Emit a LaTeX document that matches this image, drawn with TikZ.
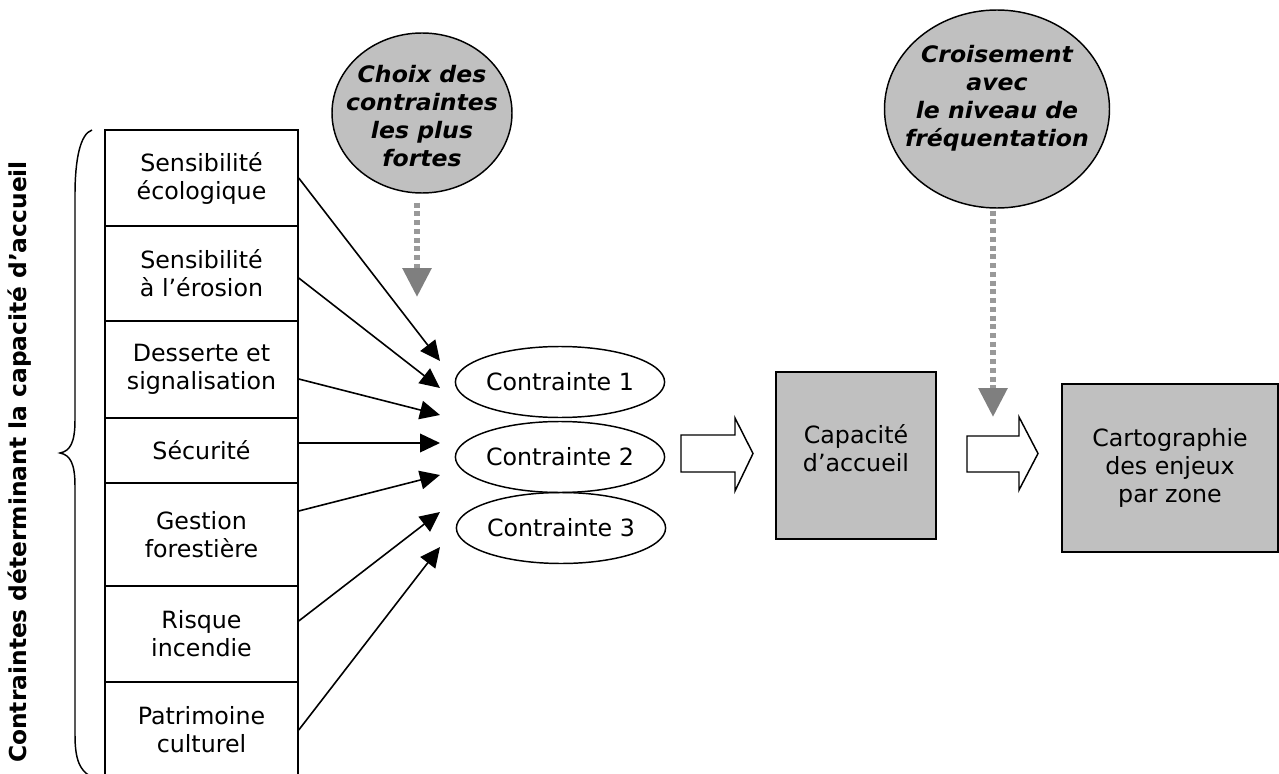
\documentclass[tikz,border=0pt]{standalone}
\usepackage{fontspec}
\setmainfont{DejaVu Sans}
\newfontfamily\ellfont[FakeStretch=1.04]{DejaVu Sans}
\usetikzlibrary{shapes.geometric,arrows.meta,calc}
\definecolor{boxgray}{HTML}{C0C0C0}
\definecolor{dashgray}{HTML}{999999}
\definecolor{headgray}{HTML}{7F7F7F}
\begin{document}
\begin{tikzpicture}[x=0.75pt,y=-0.75pt,
  txt/.style={font=\fontsize{17.8pt}{21pt}\selectfont, align=center},
  ltxt/.style={font=\ellfont\fontsize{17pt}{21pt}\selectfont\bfseries\itshape, align=center},
  leftbox/.style={draw, line width=1.1pt, minimum width=144.75pt, inner sep=0pt, txt},
  cellipse/.style={draw, ellipse, line width=1.1pt, minimum width=144pt, minimum height=53.25pt, inner sep=0pt, txt},
  gellipse/.style={draw, ellipse, line width=1.1pt, fill=boxgray, inner sep=0pt},
  gbox/.style={draw, line width=1.1pt, fill=boxgray, inner sep=0pt},
  thin arrow/.style={line width=1.2pt, -{Triangle[length=15pt,width=14pt]}},
  dash arrow/.style={draw=dashgray, line width=4.5pt, dash pattern=on 3.75pt off 2.8pt, -{Triangle[length=21.75pt,width=21pt,color=headgray]}},
  block/.style={draw, line width=1.1pt, fill=white, line join=miter}
]
\clip (0,0) rectangle (1279,774);

% rotated label
\node[rotate=90, font=\fontsize{17.5pt}{21pt}\selectfont\bfseries] (lbl) at (20,462) {Contraintes déterminant la capacité d’accueil};

% brace
\draw[line width=1.1pt] (92,130) .. controls (80,134) and (75,160) .. (75,195) -- (75,420)
  .. controls (75,443) and (70,451) .. (60,453) .. controls (70,455) and (75,463) .. (75,486)
  -- (75,735) .. controls (75,760) and (80,770) .. (90,776);

% left boxes
\node[leftbox, minimum height=72pt]    (b1) at (201.5,178)   {Sensibilité\\écologique};
\node[leftbox, minimum height=71.25pt] (b2) at (201.5,273.5) {Sensibilité\\à l’érosion};
\node[leftbox, minimum height=72.75pt] (b3) at (201.5,369.5) {Desserte et\\signalisation};
\node[leftbox, minimum height=48.75pt] (b4) at (201.5,450.5) {Sécurité};
\node[leftbox, minimum height=77.25pt] (b5) at (201.5,534.5) {Gestion\\forestière};
\node[leftbox, minimum height=72pt]    (b6) at (201.5,634)   {Risque\\incendie};
\node[leftbox, minimum height=72pt]    (b7) at (201.5,730)   {Patrimoine\\culturel};

% contraintes
\node[cellipse] (c1) at (560,382) {Contrainte 1};
\node[cellipse] (c2) at (560,457) {Contrainte 2};
\node[cellipse] (c3) at (561,528) {Contrainte 3};

% arrow tips
\coordinate (t1) at (440,361);
\coordinate (t2) at (440,388);
\coordinate (t3) at (440,415);
\coordinate (t4) at (440,443);
\coordinate (t5) at (440,475);
\coordinate (t6) at (440,512);
\coordinate (t7) at (440,547);

\draw[thin arrow] (b1.east) -- (t1);
\draw[thin arrow] ($(b2.east)+(0,4.5)$) -- (t2);
\draw[thin arrow] ($(b3.east)+(0,9.5)$) -- (t3);
\draw[thin arrow] ($(b4.east)+(0,-7.5)$) -- (t4);
\draw[thin arrow] ($(b5.east)+(0,-23.5)$) -- (t5);
\draw[thin arrow] ($(b6.east)+(0,-13)$) -- (t6);
\draw[thin arrow] (b7.east) -- (t7);

% top ellipses
\node[gellipse, minimum width=135pt, minimum height=120pt] (choix) at (422,113) {};
\node[ltxt] (choixtxt) at (422,116) {Choix des\\contraintes\\les plus\\fortes};
\node[gellipse, minimum width=168.75pt, minimum height=148.5pt] (crois) at (997,109) {};
\node[ltxt] (croistxt) at (997,98) {Croisement\\avec\\le niveau de\\fréquentation};

\coordinate (d1) at (417,297);
\coordinate (d2) at (993,417);
\draw[dash arrow] ($(choix.south)+(-5,9)$) -- (d1);
\draw[dash arrow] ($(crois.south)+(-4,2)$) -- (d2);

% capacity boxes
\node[gbox, minimum width=120pt, minimum height=125.25pt] (cap) at (856,455.5) {};
\node[txt] (captxt) at (856,448) {Capacité\\d’accueil};
\node[gbox, minimum width=162pt, minimum height=126pt, txt] (carto) at (1170,468) {Cartographie\\des enjeux\\par zone};

% block arrows
\draw[block] (681,435) -- (735,435) -- (735,418) -- (753,453.5) -- (735,491) -- (735,472) -- (681,472) -- cycle;
\draw[block] (967,436) -- (1019,436) -- (1019,417) -- (1038,453.5) -- (1019,490) -- (1019,472) -- (967,472) -- cycle;
\end{tikzpicture}
\end{document}
